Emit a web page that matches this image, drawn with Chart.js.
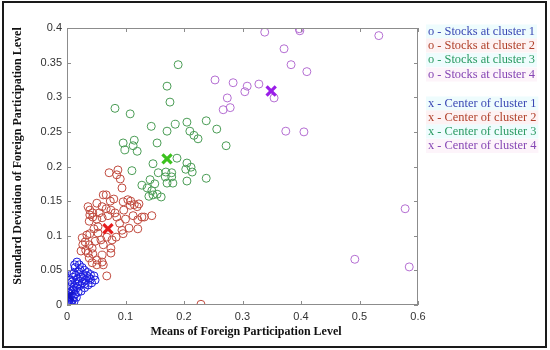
<!DOCTYPE html>
<html>
<head>
<meta charset="utf-8">
<script src="https://cdn.jsdelivr.net/npm/chart.js@4/dist/chart.umd.min.js"></script>
<style>
html,body{margin:0;padding:0;background:#fff;}
#wrap{width:550px;height:350px;position:relative;}
</style>
</head>
<body>
<div id="wrap"><canvas id="c" width="550" height="350"></canvas></div>
<script>
// ---- data ----
const xTicks = [0, 0.1, 0.2, 0.3, 0.4, 0.5, 0.6];
const yTicks = [0, 0.05, 0.1, 0.15, 0.2, 0.25, 0.3, 0.35, 0.4];
const xTitle = "Means of Foreign Participation Level";
const yTitle = "Standard Deviation of Foreign Participation Level";
const legendLabels = [
  "o - Stocks at cluster 1", "o - Stocks at cluster 2", "o - Stocks at cluster 3", "o - Stocks at cluster 4",
  "x - Center of cluster 1", "x - Center of cluster 2", "x - Center of cluster 3", "x - Center of cluster 4"
];
const cluster1Points = [
  [0.017,0.062],[0.021,0.058],[0.026,0.054],[0.014,0.054],[0.030,0.050],[0.035,0.047],[0.040,0.044],[0.046,0.042],
  [0.048,0.036],[0.038,0.039],[0.028,0.044],[0.020,0.048],[0.012,0.046],[0.024,0.040],[0.032,0.036],[0.042,0.032],
  [0.018,0.038],[0.010,0.040],[0.026,0.032],[0.036,0.029],[0.014,0.032],[0.022,0.028],[0.030,0.025],[0.008,0.033],
  [0.017,0.025],[0.012,0.026],[0.024,0.020],[0.006,0.028],[0.019,0.019],[0.010,0.021],[0.014,0.016],[0.004,0.022],
  [0.008,0.016],[0.016,0.011],[0.003,0.017],[0.011,0.011],[0.006,0.012],[0.002,0.012],[0.009,0.007],[0.004,0.007],
  [0.001,0.006],[0.006,0.004],[0.002,0.002],[0.004,0.001],[0.001,0.001],[0.008,0.002],[0.012,0.005],[0.003,0.010],
  [0.007,0.020],[0.020,0.034],[0.028,0.038],[0.034,0.042],[0.015,0.043],[0.022,0.051],[0.009,0.045],[0.005,0.036],
  [0.013,0.058],[0.031,0.031],[0.040,0.037],[0.018,0.030]
];
const cluster2Points = [
  [0.072,0.191],[0.087,0.195],[0.085,0.188],[0.091,0.182],[0.094,0.169],[0.104,0.152],[0.074,0.150],[0.080,0.153],
  [0.067,0.159],[0.051,0.147],[0.060,0.142],[0.039,0.137],[0.044,0.133],[0.055,0.133],[0.067,0.139],[0.075,0.137],
  [0.082,0.133],[0.085,0.127],[0.070,0.129],[0.060,0.126],[0.051,0.124],[0.044,0.127],[0.039,0.130],[0.038,0.121],
  [0.036,0.142],[0.120,0.142],[0.109,0.150],[0.113,0.129],[0.121,0.123],[0.132,0.127],[0.145,0.129],[0.097,0.137],
  [0.106,0.111],[0.094,0.108],[0.096,0.103],[0.084,0.098],[0.077,0.094],[0.068,0.098],[0.062,0.087],[0.060,0.072],
  [0.075,0.075],[0.075,0.082],[0.053,0.104],[0.053,0.113],[0.046,0.110],[0.039,0.103],[0.034,0.101],[0.031,0.091],
  [0.027,0.087],[0.038,0.087],[0.024,0.078],[0.032,0.079],[0.043,0.082],[0.044,0.074],[0.051,0.065],[0.060,0.062],
  [0.051,0.058],[0.043,0.061],[0.038,0.068],[0.036,0.075],[0.068,0.042],[0.062,0.058],[0.026,0.097],[0.229,0.001],
  [0.115,0.145],[0.123,0.146],[0.121,0.110],[0.128,0.127],[0.062,0.159],[0.096,0.149],[0.108,0.144],[0.100,0.124],
  [0.090,0.118],[0.058,0.094],[0.048,0.092]
];
const cluster3Points = [
  [0.190,0.347],[0.171,0.316],[0.176,0.293],[0.082,0.284],[0.108,0.276],[0.144,0.258],[0.171,0.251],[0.185,0.261],
  [0.205,0.264],[0.238,0.266],[0.210,0.251],[0.217,0.245],[0.224,0.240],[0.256,0.254],[0.272,0.230],[0.096,0.234],
  [0.115,0.238],[0.113,0.230],[0.120,0.222],[0.099,0.224],[0.154,0.234],[0.147,0.204],[0.205,0.205],[0.212,0.199],
  [0.203,0.196],[0.214,0.192],[0.205,0.179],[0.238,0.183],[0.188,0.212],[0.179,0.191],[0.169,0.192],[0.168,0.185],
  [0.179,0.185],[0.171,0.176],[0.181,0.176],[0.156,0.191],[0.142,0.181],[0.150,0.175],[0.128,0.173],[0.137,0.169],
  [0.140,0.157],[0.147,0.159],[0.154,0.160],[0.161,0.156],[0.145,0.165],[0.111,0.194]
];
const cluster4Points = [
  [0.338,0.394],[0.397,0.399],[0.398,0.396],[0.533,0.389],[0.371,0.370],[0.383,0.347],[0.410,0.337],[0.253,0.325],
  [0.284,0.321],[0.308,0.316],[0.328,0.319],[0.304,0.308],[0.354,0.299],[0.274,0.299],[0.267,0.282],[0.279,0.285],
  [0.374,0.251],[0.405,0.250],[0.578,0.139],[0.492,0.066],[0.585,0.055]
];
const centerPoints = [[0.003,0.013],[0.070,0.110],[0.171,0.211],[0.349,0.309]];

// ---- styles ----
const circleColors = ['#1c1ce0','#c04a3e','#4a9c55','#b46ed2'];
const centerColors = ['#1414c8','#e61e1e','#3cc21e','#9a1ee8'];
const legendColors = ['#3a48b4','#b0402a','#2a9a62','#8646b4','#3a48b4','#b0402a','#2a9a62','#8646b4'];
const legendBg = ['#eefcfd','#fdf2f3','#eefcfd','#fdf4fa','#eefcfd','#fdf2f3','#eefcfd','#fdf4fa'];

const toXY = arr => arr.map(p => ({x:p[0], y:p[1]}));
const clusters = [cluster1Points, cluster2Points, cluster3Points, cluster4Points];
const datasets = [];
centerPoints.forEach((p,i) => datasets.push({
  data: toXY([p]), pointStyle:'crossRot', pointRadius:6.5, borderWidth:3.2,
  borderColor:centerColors[i], backgroundColor:centerColors[i], order:0
}));
clusters.forEach((c,i) => datasets.push({
  data: toXY(c), pointStyle:'circle', pointRadius:4, borderWidth:1,
  borderColor:circleColors[i], backgroundColor:'rgba(0,0,0,0)', order:1
}));

const fmt = v => String(Number(v.toFixed(2)));

const decor = {
  id:'decor',
  afterDraw(chart){
    const ctx = chart.ctx, a = chart.chartArea;
    const xs = chart.scales.x, ys = chart.scales.y;
    ctx.save();
    // plot box
    ctx.strokeStyle = '#8c8c8c'; ctx.lineWidth = 1;
    ctx.strokeRect(a.left+0.5, a.top+0.5, a.right-a.left-1, a.bottom-a.top-1);
    // inward ticks
    const tl = 4;
    ctx.beginPath();
    xTicks.forEach(v => {
      const px = Math.round(xs.getPixelForValue(v))+0.5;
      ctx.moveTo(px, a.bottom); ctx.lineTo(px, a.bottom-tl);
      ctx.moveTo(px, a.top); ctx.lineTo(px, a.top+tl);
    });
    yTicks.forEach(v => {
      const py = Math.round(ys.getPixelForValue(v))+0.5;
      ctx.moveTo(a.left, py); ctx.lineTo(a.left+tl, py);
      ctx.moveTo(a.right, py); ctx.lineTo(a.right-tl, py);
    });
    ctx.stroke();
    // axis titles
    ctx.fillStyle = '#111';
    ctx.font = 'bold 12px "Liberation Serif", "Times New Roman", serif';
    ctx.textAlign = 'center'; ctx.textBaseline = 'middle';
    ctx.fillText(xTitle, 246, 332);
    ctx.save();
    ctx.translate(18, 156);
    ctx.rotate(-Math.PI/2);
    ctx.fillText(yTitle, 0, 0);
    ctx.restore();
    // legend text
    ctx.font = '12.4px "Liberation Serif", "Times New Roman", serif';
    ctx.textAlign = 'left';
    const ly = [31.5,45.5,60,74.5,103.5,117.5,131.5,146];
    legendLabels.forEach((t,i) => {
      const w = ctx.measureText(t).width;
      ctx.fillStyle = legendBg[i];
      ctx.fillRect(426, ly[i]-7, w+4, 14);
      ctx.fillStyle = legendColors[i];
      ctx.fillText(t, 428, ly[i]);
    });
    // outer border
    ctx.strokeStyle = '#1a1a1a'; ctx.lineWidth = 2;
    ctx.strokeRect(3, 2, 543, 345);
    ctx.restore();
  }
};

new Chart(document.getElementById('c'), {
  type:'scatter',
  data:{datasets},
  options:{
    responsive:false, animation:false, devicePixelRatio:1,
    layout:{padding:{left:0,right:132,top:28,bottom:0}},
    plugins:{legend:{display:false}, tooltip:{enabled:false}},
    scales:{
      x:{
        type:'linear', min:0, max:0.6,
        afterBuildTicks: s => { s.ticks = xTicks.map(v => ({value:v})); },
        afterFit: s => { s.height = 45; },
        grid:{display:false, drawTicks:false, tickLength:0}, border:{display:false},
        ticks:{padding:5, color:'#333', font:{family:'"Liberation Sans", Arial, sans-serif', size:11}, callback:v => fmt(v), maxRotation:0}
      },
      y:{
        type:'linear', min:0, max:0.4,
        afterBuildTicks: s => { s.ticks = yTicks.map(v => ({value:v})); },
        afterFit: s => { s.width = 67; },
        grid:{display:false, drawTicks:false, tickLength:0}, border:{display:false},
        ticks:{padding:5, color:'#333', font:{family:'"Liberation Sans", Arial, sans-serif', size:11}, callback:v => fmt(v)}
      }
    }
  },
  plugins:[decor]
});
</script>
</body>
</html>
